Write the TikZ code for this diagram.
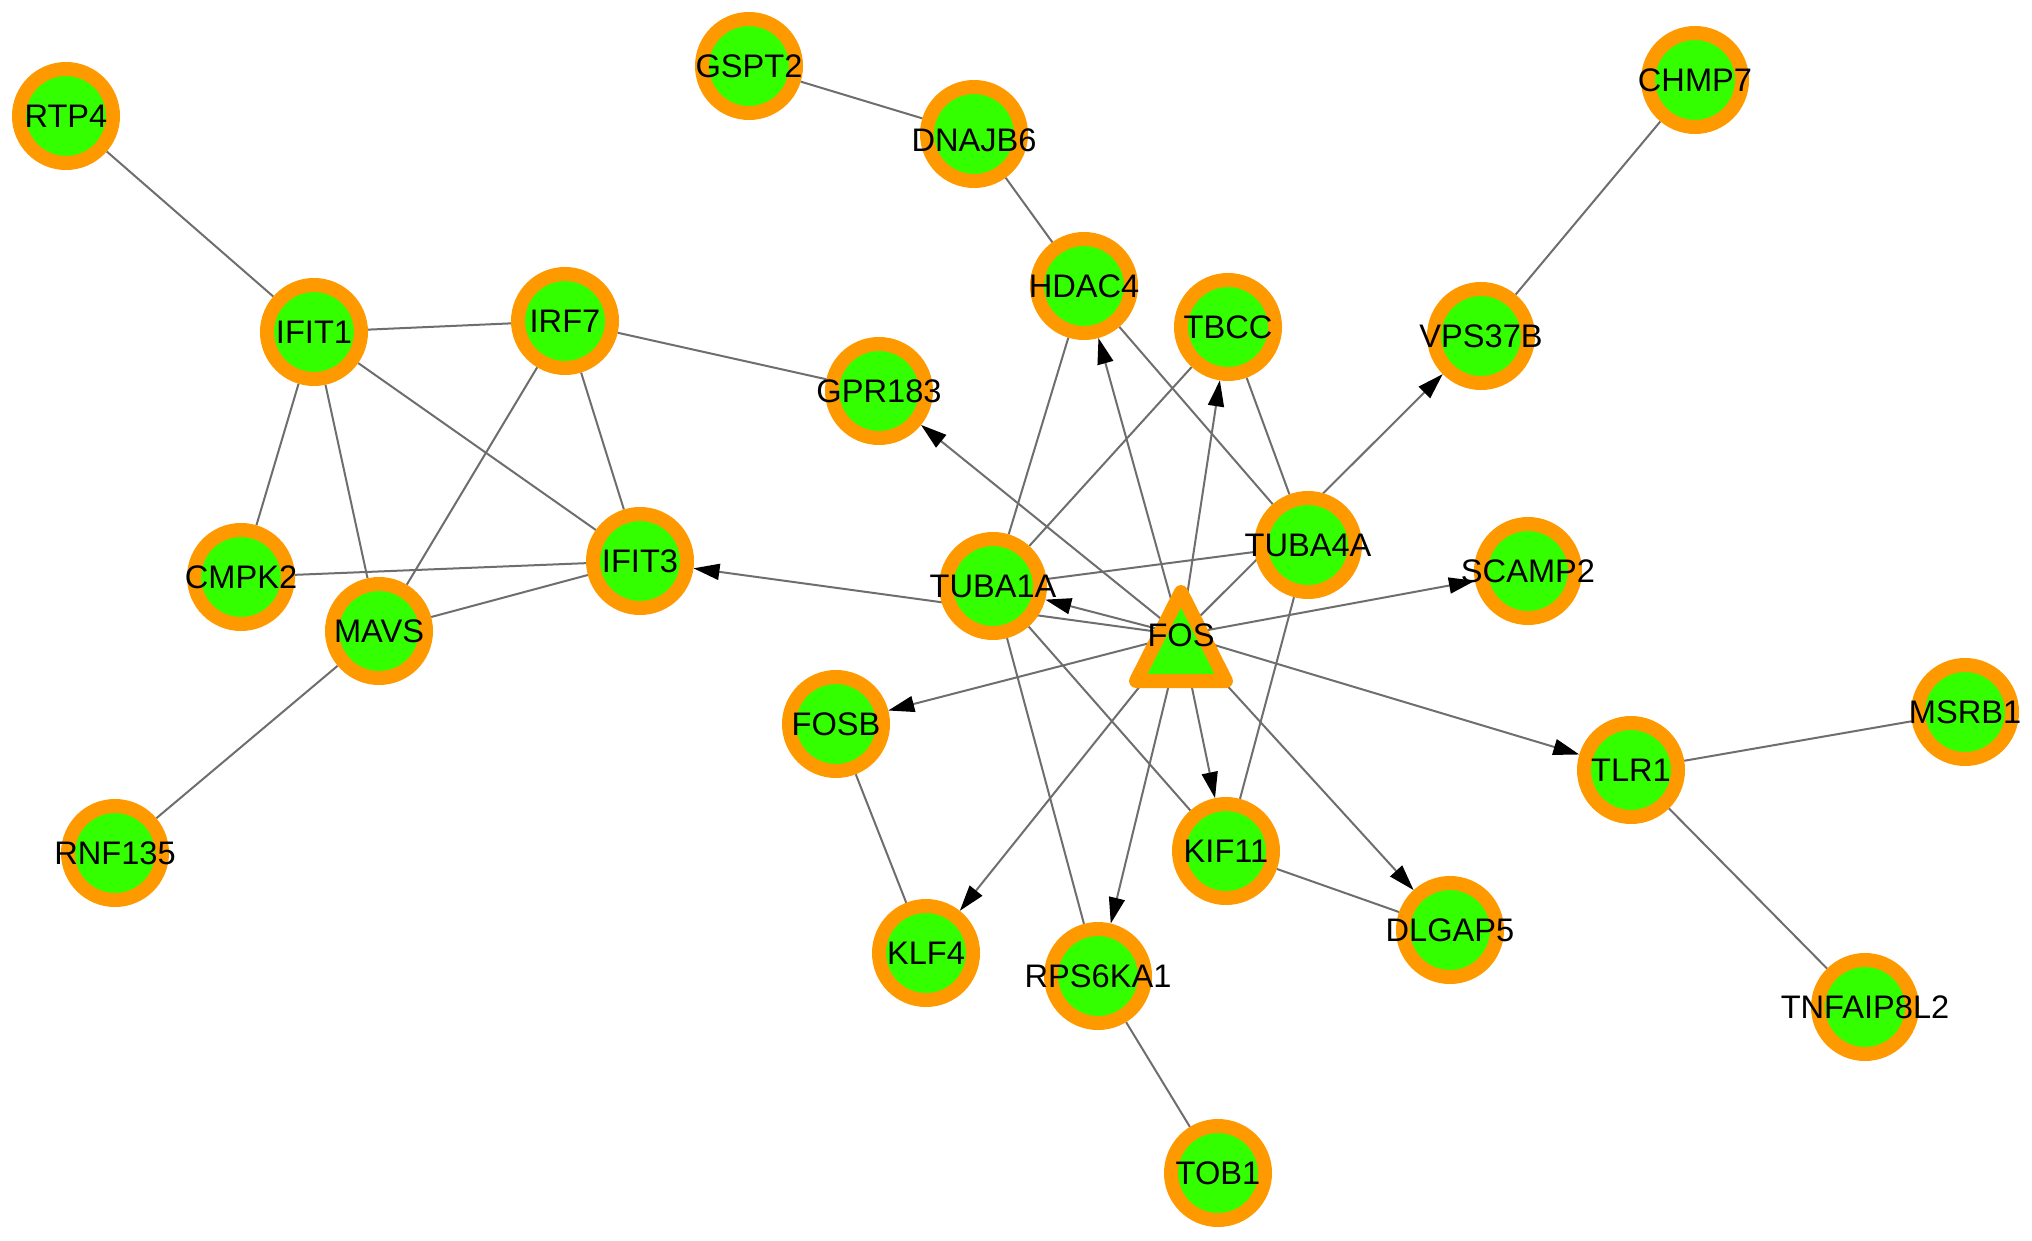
\documentclass[tikz,border=0pt]{standalone}
\usepackage{fontspec}
\setmainfont{Liberation Sans}
\usetikzlibrary{arrows.meta}
\pgfdeclarelayer{paper}
\pgfdeclarelayer{background}
\pgfsetlayers{paper,background,main}
\definecolor{ringc}{RGB}{255,153,0}
\definecolor{fillc}{RGB}{51,255,0}
\definecolor{edgec}{RGB}{110,110,110}
\tikzset{
  lab/.style={inner sep=0pt, text=black, font=\fontsize{32.6}{39}\selectfont},
  gene/.style={circle, draw=ringc, fill=fillc, line width=14pt, minimum size=94pt, inner sep=0pt, outer sep=7pt, label={[lab]center:#1}},
  geneb/.style={circle, draw=ringc, fill=fillc, line width=14pt, minimum size=94pt, inner sep=0pt, outer sep=7pt, label={[lab, yshift=-6pt]center:#1}},
  edge/.style={draw=edgec, line width=2pt},
  arr/.style={edge, -{Triangle[length=26pt,width=16pt,color=black]}}
}
\begin{document}
\begin{tikzpicture}[x=1pt,y=-1pt]
\begin{pgfonlayer}{paper}
\fill[white] (0,0) rectangle (2032,1241);
\end{pgfonlayer}
\useasboundingbox (0,0) rectangle (2032,1241);
% nodes
\node[gene=RTP4] (RTP4) at (66,116) {};
\node[gene=GSPT2] (GSPT2) at (749,66) {};
\node[geneb=DNAJB6] (DNAJB6) at (974,134) {};
\node[gene=CHMP7] (CHMP7) at (1695,80) {};
\node[gene=HDAC4] (HDAC4) at (1084,286) {};
\node[gene=TBCC] (TBCC) at (1228,327) {};
\node[gene=VPS37B] (VPS37B) at (1481,336) {};
\node[gene=IFIT1] (IFIT1) at (314,332) {};
\node[gene=IRF7] (IRF7) at (565,321) {};
\node[gene=GPR183] (GPR183) at (879,391) {};
\node[gene=IFIT3] (IFIT3) at (640,561) {};
\node[gene=CMPK2] (CMPK2) at (241,577) {};
\node[gene=MAVS] (MAVS) at (379,631) {};
\node[gene=TUBA1A] (TUBA1A) at (993,586) {};
\node[gene=TUBA4A] (TUBA4A) at (1308,545) {};
\node[gene=SCAMP2] (SCAMP2) at (1528,571) {};
\node[gene=FOSB] (FOSB) at (836,724) {};
\node[gene=TLR1] (TLR1) at (1631,770) {};
\node[gene=MSRB1] (MSRB1) at (1965,712) {};
\node[gene=RNF135] (RNF135) at (115,853) {};
\node[gene=KIF11] (KIF11) at (1226,851) {};
\node[gene=DLGAP5] (DLGAP5) at (1450,930) {};
\node[gene=KLF4] (KLF4) at (926,953) {};
\node[gene=RPS6KA1] (RPS6KA1) at (1098,976) {};
\node[gene=TNFAIP8L2] (TNFAIP8L2) at (1865,1007) {};
\node[gene=TOB1] (TOB1) at (1218,1173) {};
% FOS triangle
\filldraw[draw=ringc, fill=fillc, line width=14pt, line join=round] (1136,681) -- (1226,681) -- (1181,592) -- cycle;
\node[lab] (FOS) at (1181,635) {FOS};
% edges
\begin{pgfonlayer}{background}
\draw[edge] (RTP4) -- (IFIT1);
\draw[edge] (IFIT1) -- (IRF7);
\draw[edge] (IFIT1) -- (CMPK2);
\draw[edge] (IFIT1) -- (MAVS);
\draw[edge] (IFIT1) -- (IFIT3);
\draw[edge] (IRF7) -- (MAVS);
\draw[edge] (IRF7) -- (IFIT3);
\draw[edge] (IRF7) -- (GPR183);
\draw[edge] (CMPK2) -- (IFIT3);
\draw[edge] (MAVS) -- (IFIT3);
\draw[edge] (MAVS) -- (RNF135);
\draw[edge] (GSPT2) -- (DNAJB6);
\draw[edge] (DNAJB6) -- (HDAC4);
\draw[edge] (HDAC4) -- (TUBA1A);
\draw[edge] (HDAC4) -- (TUBA4A);
\draw[edge] (TBCC) -- (TUBA1A);
\draw[edge] (TBCC) -- (TUBA4A);
\draw[edge] (TUBA1A) -- (TUBA4A);
\draw[edge] (TUBA4A) -- (KIF11);
\draw[edge] (TUBA1A) -- (KIF11);
\draw[edge] (TUBA1A) -- (RPS6KA1);
\draw[edge] (KIF11) -- (DLGAP5);
\draw[edge] (FOSB) -- (KLF4);
\draw[edge] (RPS6KA1) -- (TOB1);
\draw[edge] (TLR1) -- (MSRB1);
\draw[edge] (TLR1) -- (TNFAIP8L2);
\draw[edge] (VPS37B) -- (CHMP7);
\draw[arr] (FOS.center) -- (HDAC4);
\draw[arr] (FOS.center) -- (TBCC);
\draw[arr] (FOS.center) -- (VPS37B);
\draw[arr] (FOS.center) -- (GPR183);
\draw[arr] (FOS.center) -- (IFIT3);
\draw[arr] (FOS.center) -- (TUBA1A);
\draw[arr] (FOS.center) -- (SCAMP2);
\draw[arr] (FOS.center) -- (TLR1);
\draw[arr] (FOS.center) -- (FOSB);
\draw[arr] (FOS.center) -- (KLF4);
\draw[arr] (FOS.center) -- (RPS6KA1);
\draw[arr] (FOS.center) -- (KIF11);
\draw[arr] (FOS.center) -- (DLGAP5);
\end{pgfonlayer}
\end{tikzpicture}
\end{document}
